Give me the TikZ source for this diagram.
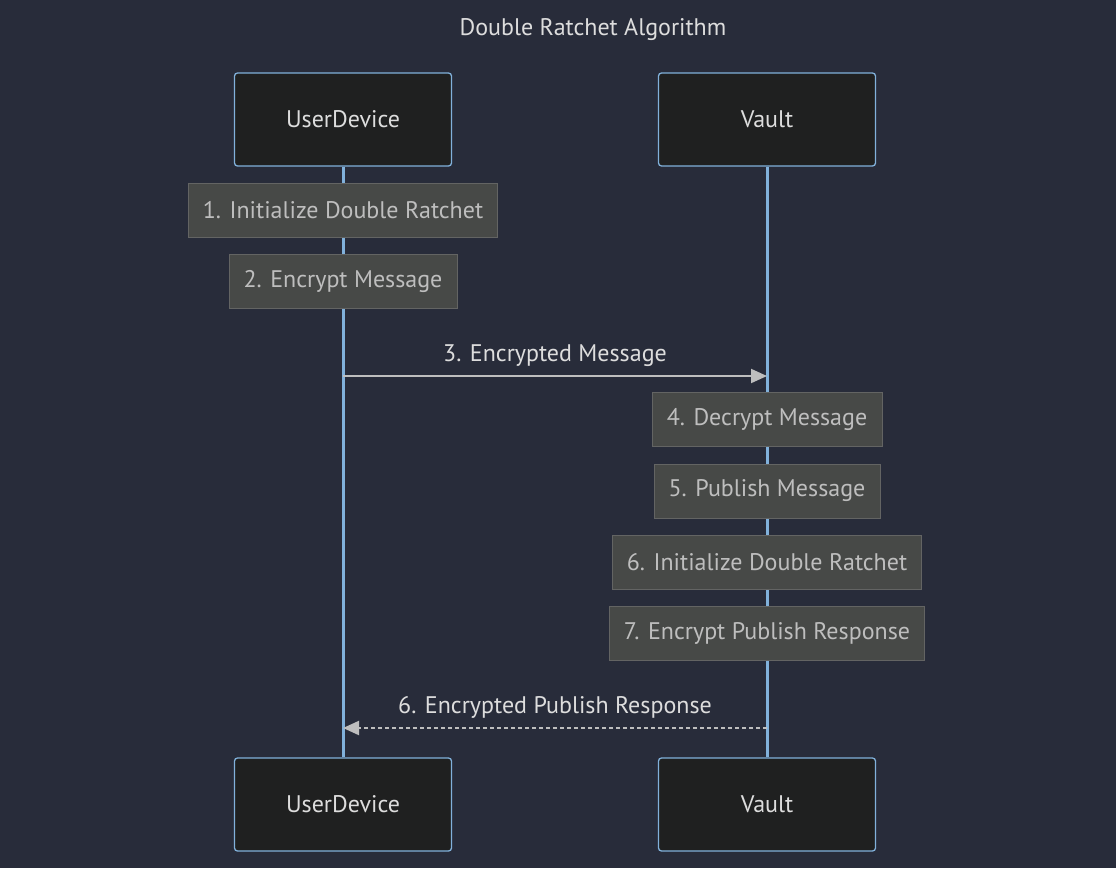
\documentclass[tikz,border=0pt]{standalone}
\usepackage{fontspec}
\setmainfont{PT Sans}
\usetikzlibrary{arrows.meta}
\definecolor{bgcol}{RGB}{40,44,58}
\definecolor{actfill}{RGB}{31,32,32}
\definecolor{lifecol}{RGB}{129,177,219}
\definecolor{notefill}{RGB}{71,73,71}
\definecolor{notetext}{RGB}{190,190,190}
\definecolor{msgtext}{RGB}{221,221,221}
\tikzset{
  actor/.style={draw=lifecol,line width=1.3pt,fill=actfill,rounded corners=3pt,
    minimum width=217pt,minimum height=93pt,text=msgtext,font=\fontsize{24}{28}\selectfont},
  note/.style={draw=notefill!85!white,fill=notefill,minimum height=54pt,inner xsep=14.5pt,
    text=notetext,font=\fontsize{24}{28}\selectfont},
  lifeline/.style={draw=lifecol,line width=3pt},
  msg/.style={draw=notetext,line width=2pt,-{Triangle[length=16pt,width=14pt]}},
  msglabel/.style={text=msgtext,font=\fontsize{24}{28}\selectfont}
}
\begin{document}
\begin{tikzpicture}[x=1pt,y=-1pt]
    \fill[bgcol] (0,0) rectangle (1116,868);
    \useasboundingbox (0,0) rectangle (1116,868);
    \node[text=msgtext,font=\fontsize{24}{28}\selectfont] (title) at (593,30) {Double Ratchet Algorithm};
    % actors
    \node[actor] (user) at (343,119.5) {UserDevice};
    \node[actor] (vault) at (767,119.5) {Vault};
    \node[actor] (userb) at (343,804.5) {UserDevice};
    \node[actor] (vaultb) at (767,804.5) {Vault};
    \draw[lifeline] (user) -- (userb);
    \draw[lifeline] (vault) -- (vaultb);
    % notes
    \node[note] (n1) at (343,210) {1. Initialize Double Ratchet};
    \node[note] (n2) at (343,281) {2. Encrypt Message};
    \node[note] (n4) at (767,419.5) {4. Decrypt Message};
    \node[note] (n5) at (767,491) {5. Publish Message};
    \node[note] (n6) at (767,562) {6. Initialize Double Ratchet};
    \node[note] (n7) at (767,633) {7. Encrypt Publish Response};
    % messages
    \coordinate (m3a) at (343,376);
    \coordinate (m3b) at (767,376);
    \draw[msg] (m3a) -- (m3b) node[msglabel,midway,above=5pt] (m3) {3. Encrypted Message};
    \coordinate (m6a) at (767,728);
    \coordinate (m6b) at (343,728);
    \draw[msg,dash pattern=on 4pt off 3pt] (m6a) -- (m6b) node[msglabel,midway,above=5pt] (m6) {6. Encrypted Publish Response};
\end{tikzpicture}
\end{document}
